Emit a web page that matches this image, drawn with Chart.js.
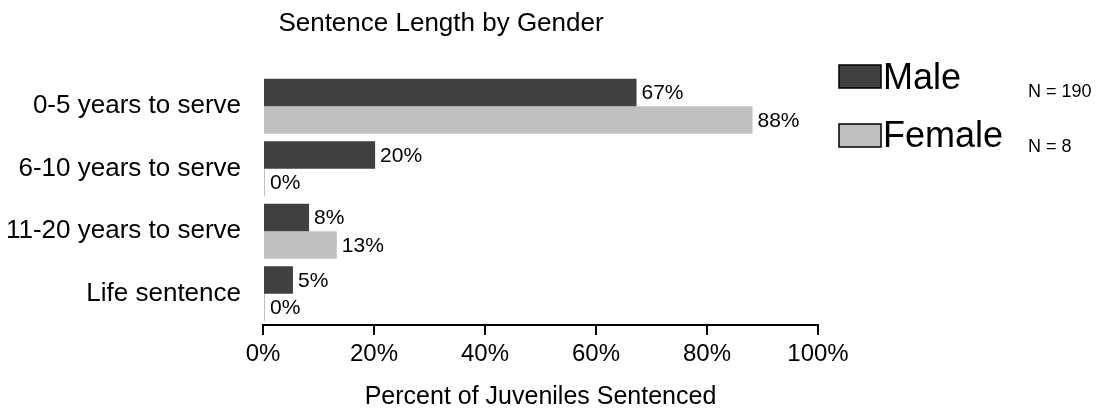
<!DOCTYPE html>
<html>
<head>
<meta charset="utf-8">
<script src="https://cdn.jsdelivr.net/npm/chart.js@4"></script>
<style>
  html, body { margin: 0; padding: 0; background: #fff; }
  #wrap { width: 1109px; height: 414px; }
</style>
</head>
<body>
<div id="wrap"><canvas id="chart" width="1109" height="414"></canvas></div>
<script>
// ---- data ----
const categories = ['0-5 years to serve', '6-10 years to serve', '11-20 years to serve', 'Life sentence'];
const maleValues = [67.3, 20.2, 8.3, 5.4];
const femaleValues = [88.2, 0, 13.3, 0];
const seriesNames = ['Male', 'Female'];
const seriesCounts = ['N = 190', 'N = 8'];
const xTicks = [0, 20, 40, 60, 80, 100];

const FONT = '"Liberation Sans", Arial, sans-serif';

// title sits left of the plot centre, as in the original
const titlePlugin = {
  id: 'sheetTitle',
  afterDraw(chart) {
    const ctx = chart.ctx;
    ctx.save();
    ctx.font = '26px ' + FONT;
    ctx.fillStyle = '#000';
    ctx.textAlign = 'center';
    ctx.textBaseline = 'alphabetic';
    ctx.fillText('Sentence Length by Gender', 441, 31);
    ctx.restore();
  }
};

// value labels at the end of each bar
const valueLabels = {
  id: 'valueLabels',
  afterDatasetsDraw(chart) {
    const ctx = chart.ctx;
    ctx.save();
    ctx.font = '21px ' + FONT;
    ctx.fillStyle = '#000';
    ctx.textAlign = 'left';
    ctx.textBaseline = 'middle';
    chart.data.datasets.forEach((ds, i) => {
      chart.getDatasetMeta(i).data.forEach((bar, j) => {
        ctx.fillText(Math.round(ds.data[j]) + '%', bar.x + 5, bar.y + 1);
      });
    });
    ctx.restore();
  }
};

// legend on the right with the N counts
const sideLegend = {
  id: 'sideLegend',
  afterDraw(chart) {
    const ctx = chart.ctx;
    const rows = [
      { box: 65, base: 89, nBase: 97 },
      { box: 124, base: 147, nBase: 152 }
    ];
    ctx.save();
    chart.data.datasets.forEach((ds, i) => {
      const r = rows[i];
      ctx.fillStyle = ds.backgroundColor;
      ctx.fillRect(839, r.box, 42, 23);
      ctx.strokeStyle = '#000';
      ctx.lineWidth = 1.5;
      ctx.strokeRect(839, r.box, 42, 23);
      ctx.fillStyle = '#000';
      ctx.textAlign = 'left';
      ctx.textBaseline = 'alphabetic';
      ctx.font = '36px ' + FONT;
      ctx.fillText(ds.label, 883, r.base);
      ctx.font = '18px ' + FONT;
      ctx.fillText(seriesCounts[i], 1028, r.nBase);
    });
    ctx.restore();
  }
};

new Chart(document.getElementById('chart'), {
  type: 'bar',
  data: {
    labels: categories,
    datasets: [
      { label: seriesNames[0], data: maleValues, backgroundColor: '#404040', minBarLength: 2 },
      { label: seriesNames[1], data: femaleValues, backgroundColor: '#c0c0c0', minBarLength: 2 }
    ]
  },
  options: {
    indexAxis: 'y',
    responsive: false,
    animation: false,
    devicePixelRatio: 1,
    layout: { padding: { top: 75, right: 291, bottom: 0, left: 0 } },
    datasets: { bar: { categoryPercentage: 0.88, barPercentage: 1.0, borderWidth: 0 } },
    plugins: {
      legend: { display: false },
      title: { display: false },
      tooltip: { enabled: false }
    },
    scales: {
      x: {
        min: 0,
        max: 100,
        afterBuildTicks: s => { s.ticks = xTicks.map(v => ({ value: v })); },
        afterFit: s => { s.height = 89; },
        border: { display: true, color: '#000', width: 2 },
        grid: { display: true, drawOnChartArea: false, drawTicks: true, tickLength: 10, color: '#000', lineWidth: 2 },
        ticks: {
          color: '#000',
          padding: 5,
          font: { family: FONT, size: 24 },
          callback: v => v + '%'
        },
        title: {
          display: true,
          text: 'Percent of Juveniles Sentenced',
          color: '#000',
          font: { family: FONT, size: 25 },
          padding: { top: 0, bottom: 2 }
        }
      },
      y: {
        afterFit: s => { s.width = 263; },
        border: { display: false },
        grid: { display: false, drawTicks: false },
        ticks: { color: '#000', padding: 22, font: { family: FONT, size: 26 } }
      }
    }
  },
  plugins: [titlePlugin, valueLabels, sideLegend]
});
</script>
</body>
</html>
